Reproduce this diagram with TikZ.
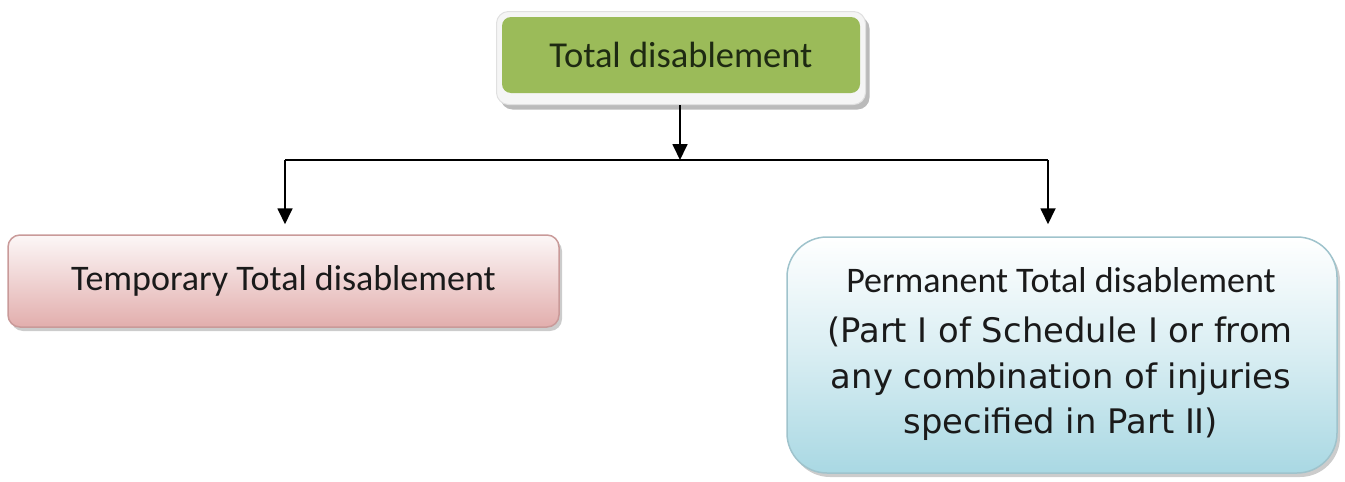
\documentclass[tikz,border=0pt]{standalone}
\usepackage{fontspec}
\setmainfont{Carlito}
\newfontfamily\dvfont{DejaVu Sans}
\usetikzlibrary{shadows,arrows.meta}
\definecolor{greenfill}{HTML}{9BBB59}
\definecolor{pinkbot}{HTML}{E2AEAD}
\definecolor{pinkborder}{HTML}{C99A99}
\definecolor{bluebot}{HTML}{A9D8E3}
\definecolor{blueborder}{HTML}{9FC3CC}
\definecolor{txt}{HTML}{1A1A1A}
\definecolor{greentxt}{HTML}{1E2A12}
\begin{document}
\begin{tikzpicture}[x=1pt,y=-1pt,
  boxbase/.style={inner sep=0pt, text=txt},
  outerbox/.style={boxbase, draw=black!12, line width=1pt, fill=black!4, rounded corners=12pt,
    drop shadow={shadow xshift=4pt, shadow yshift=-5pt, fill=black!45, opacity=0.6}},
  greenbox/.style={boxbase, fill=greenfill, rounded corners=9pt, text=greentxt},
  pinkbox/.style={boxbase, draw=pinkborder, line width=1.5pt, rounded corners=12pt,
    top color=white!90!pinkbot, bottom color=pinkbot,
    drop shadow={shadow xshift=3pt, shadow yshift=-4pt, fill=black!40, opacity=0.5}},
  bluebox/.style={boxbase, draw=blueborder, line width=1.5pt, rounded corners=40pt,
    top color=white, bottom color=bluebot, middle color=white!55!bluebot,
    drop shadow={shadow xshift=3pt, shadow yshift=-4pt, fill=black!40, opacity=0.5}},
  bluetxt/.style={inner sep=0pt, anchor=base, text=txt},
  conn/.style={line width=1.8pt, black},
  arr/.style={conn, -{Triangle[length=16pt,width=15pt]}}
]
\useasboundingbox (0,0) rectangle (1345,482);
\node[outerbox, minimum width=369pt, minimum height=93pt] (topouter) at (681,58) {};
\node[greenbox, minimum width=358pt, minimum height=76pt,
  font=\fontsize{36.5}{40}\selectfont] (top) at (681,55) {Total disablement};
\node[pinkbox, minimum width=551pt, minimum height=92pt,
  font=\fontsize{36}{40}\selectfont] (temp) at (283.5,281) {Temporary Total disablement};
\node[bluebox, minimum width=550pt, minimum height=236pt] (perm) at (1062,355) {};
\node[bluetxt, font=\fontsize{36}{40}\selectfont] (p1) at (1061,292) {Permanent Total disablement};
\node[bluetxt, font=\dvfont\fontsize{33.8}{40}\selectfont] (p2) at (1060,342) {(Part I of Schedule I or from};
\node[bluetxt, font=\dvfont\fontsize{33.8}{40}\selectfont] (p3) at (1061,388) {any combination of injuries};
\node[bluetxt, font=\dvfont\fontsize{33.8}{40}\selectfont] (p4) at (1061,433) {specified in Part II)};
\coordinate (j) at (680,160);
\coordinate (jl) at (285,160);
\coordinate (jr) at (1048,160);
\draw[arr] (topouter.south -| j) -- (j);
\draw[conn] (jl) -- (jr);
\draw[arr, shorten >=10pt] (jl) -- (jl |- temp.north);
\draw[arr, shorten >=12pt] (jr) -- (jr |- perm.north);
\end{tikzpicture}
\end{document}
